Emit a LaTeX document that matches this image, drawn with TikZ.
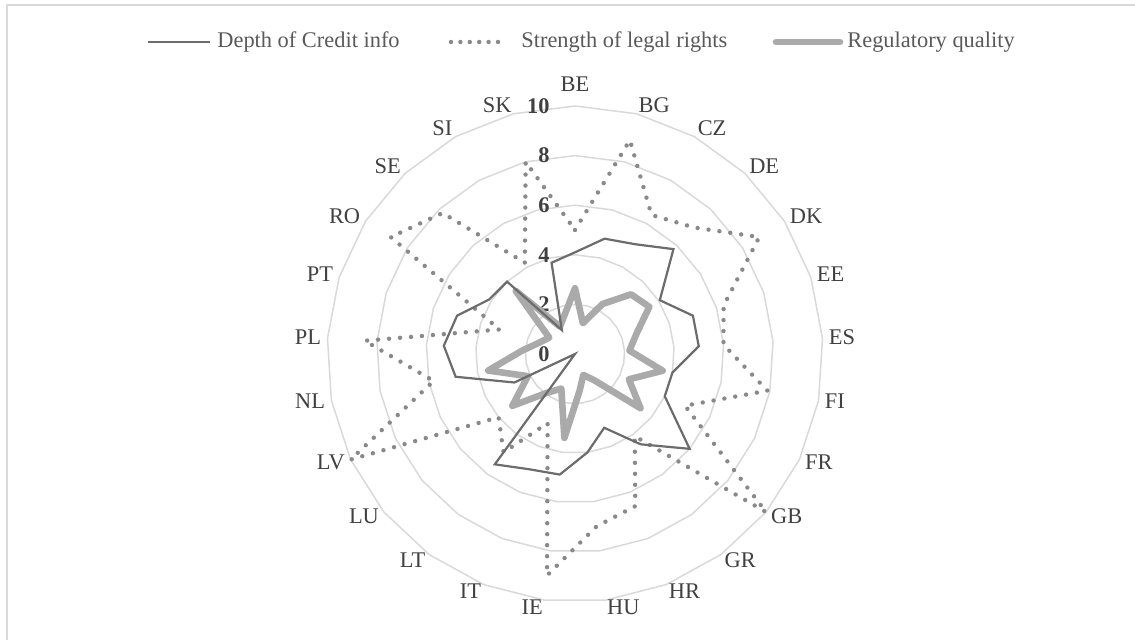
\documentclass[tikz,border=0pt]{standalone}
\usepackage{fontspec}
\setmainfont{Liberation Serif}
\usepackage{tikz}
\usetikzlibrary{positioning}
\usepackage{xcolor}
\definecolor{chgrid}{RGB}{217,217,217}
\definecolor{chdepth}{RGB}{108,108,108}
\definecolor{chrights}{RGB}{137,137,137}
\definecolor{chreg}{RGB}{170,170,170}
\definecolor{chtext}{RGB}{64,64,64}
\definecolor{chlegend}{RGB}{89,89,89}
\tikzstyle{gridring} = [chgrid, line width=0.75pt]
\tikzstyle{depthline} = [chdepth, line width=1.1pt]
\tikzstyle{rightsline} = [chrights, line width=2.2pt, line cap=round, dash pattern=on 0pt off 5.5pt]
\tikzstyle{regline} = [chreg, line width=3.3pt, line join=round]
\tikzstyle{cntry} = [inner sep=0pt, text=chtext, font=\fontsize{11.2}{13}\selectfont]
\tikzstyle{axnum} = [inner sep=0pt, anchor=east, text=chtext, font=\fontsize{11.2}{13}\selectfont\bfseries]
\tikzstyle{legtxt} = [inner sep=0pt, text=chlegend, font=\fontsize{11.2}{13}\selectfont]

\begin{document}
\begin{tikzpicture}[x=0.5pt, y=0.5pt]
\useasboundingbox (-575,-286) rectangle (560,354);
% chart frame
\draw[chgrid, line width=0.85pt] (-568.3,-286) -- (-568.3,349.3) -- (560,349.3);

% grid rings
\foreach \r in {2,4,...,10}
  \draw[gridring] (90:{\r*24.8}) \foreach \k in {1,...,24} {-- ({90-\k*14.4}:{\r*24.8})} -- cycle;

% axis numbers
\foreach \r in {0,2,...,10}
  \node[axnum] (ax\r) at (-25,{\r*24.8}) {\r};

% countries
\node[cntry, anchor=south] (c0) at (0,262) {BE};
\foreach \cn [count=\k] in {BG,CZ,DE,DK,EE,ES,FI,FR,GB,GR,HR,HU,IE,IT,LT,LU,LV,NL,PL,PT,RO,SE,SI,SK} {
  \ifnum\k<13 \def\anc{west}\else\def\anc{east}\fi
  \node[cntry, anchor=\anc] (c\k) at ({254*sin(\k*14.4)},{256*cos(\k*14.4)+1}) {\cn};
}

% series points
\foreach \v [count=\k from 0] in {2.65,1.28,2.3,3.3,3.55,2.6,2.2,3.6,2.4,3.43,1.3,0.91,1.49,3.41,1.5,1.94,3.28,2.1,3.56,2.14,1.5,1.23,3.49,1.26,1.65}
  \coordinate (rq\k) at ({90-\k*14.4}:{\v*24.8});
\foreach \v [count=\k from 0] in {5,8.9,6.4,7,8.8,6.3,6,7.9,4.9,10,4.1,6.6,7,9,3,4.9,4,10,5.8,8.5,3.2,8.8,7.8,4.2,8}
  \coordinate (lr\k) at ({90-\k*14.4}:{\v*24.8});
\foreach \v [count=\k from 0] in {4.1,4.8,5.05,5.8,4.05,5,5,4,4,6,4.5,3.2,4,4.9,5,5.5,0,2.7,4.9,5.3,5,4.1,4,1.1,3.8}
  \coordinate (dc\k) at ({90-\k*14.4}:{\v*24.8});

% series
\draw[regline] (rq0) \foreach \k in {1,...,24} {-- (rq\k)} -- cycle;
\draw[rightsline] (lr0) \foreach \k in {1,...,24} {-- (lr\k)} -- cycle;
\draw[depthline] (dc0) \foreach \k in {1,...,24} {-- (dc\k)} -- cycle;

% legend
\coordinate (l1a) at (-427,312);
\coordinate (l1b) at (-365,312);
\draw[depthline] (l1a) -- (l1b);
\node[legtxt, right=3.5pt of l1b] (l1t) {Depth of Credit info};
\coordinate (l2a) at (-124,312);
\coordinate (l2b) at (-77,312);
\draw[rightsline, dash pattern=on 0pt off 4.7pt] (l2a) -- (l2b);
\node[legtxt, right=11.5pt of l2b] (l2t) {Strength of legal rights};
\coordinate (l3a) at (201,312);
\coordinate (l3b) at (265,312);
\draw[regline, line cap=round] (l3a) -- (l3b);
\node[legtxt, right=3.5pt of l3b] (l3t) {Regulatory quality};
\end{tikzpicture}
\end{document}
